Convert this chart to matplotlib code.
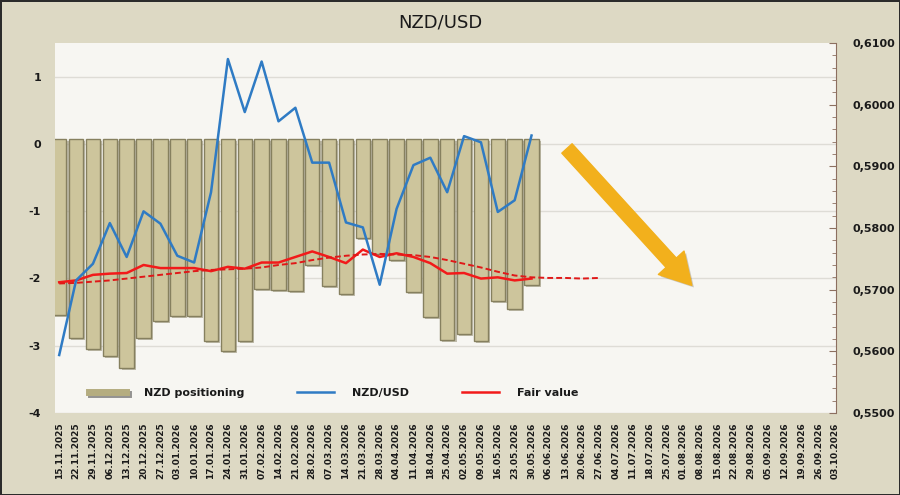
# NZD/USD positioning vs price and fair value
import matplotlib
matplotlib.use("Agg")
import matplotlib.pyplot as plt
import matplotlib.patheffects as pe
from matplotlib.lines import Line2D
from matplotlib.ticker import MultipleLocator, FuncFormatter

plt.rcParams["axes.unicode_minus"] = False

# Weekly dates (x axis)
dates = ["15.11.2025", "22.11.2025", "29.11.2025", "06.12.2025", "13.12.2025",
         "20.12.2025", "27.12.2025", "03.01.2026", "10.01.2026", "17.01.2026",
         "24.01.2026", "31.01.2026", "07.02.2026", "14.02.2026", "21.02.2026",
         "28.02.2026", "07.03.2026", "14.03.2026", "21.03.2026", "28.03.2026",
         "04.04.2026", "11.04.2026", "18.04.2026", "25.04.2026", "02.05.2026",
         "09.05.2026", "16.05.2026", "23.05.2026", "30.05.2026", "06.06.2026",
         "13.06.2026", "20.06.2026", "27.06.2026", "04.07.2026", "11.07.2026",
         "18.07.2026", "25.07.2026", "01.08.2026", "08.08.2026", "15.08.2026",
         "22.08.2026", "29.08.2026", "05.09.2026", "12.09.2026", "19.09.2026",
         "26.09.2026", "03.10.2026"]

# NZD positioning (left axis)
positioning = [-2.54, -2.89, -3.05, -3.15, -3.33, -2.88, -2.63, -2.56, -2.56, -2.93,
               -3.08, -2.93, -2.15, -2.17, -2.18, -1.80, -2.11, -2.23, -1.40, -1.63,
               -1.73, -2.20, -2.57, -2.91, -2.82, -2.93, -2.34, -2.46, -2.10]

# NZD/USD spot (right axis)
nzdusd = [0.5594, 0.5715, 0.5742, 0.5808, 0.5753, 0.5827, 0.5807, 0.5755, 0.5744, 0.5858,
          0.6074, 0.5988, 0.6070, 0.5973, 0.5995, 0.5906, 0.5906, 0.5809, 0.5801, 0.5708,
          0.5831, 0.5902, 0.5914, 0.5858, 0.5949, 0.5939, 0.5826, 0.5845, 0.5950]

# Fair value (right axis)
fair_value = [0.5712, 0.5715, 0.5724, 0.5726, 0.5727, 0.5740, 0.5735, 0.5735, 0.5735, 0.5730,
              0.5737, 0.5734, 0.5744, 0.5744, 0.5753, 0.5762, 0.5753, 0.5743, 0.5765, 0.5753,
              0.5759, 0.5753, 0.5743, 0.5726, 0.5727, 0.5718, 0.5720, 0.5715, 0.5718]

# Fair value trend (dashed, runs a few weeks ahead)
fair_trend = [0.5710, 0.5711, 0.5713, 0.5715, 0.5718, 0.5721, 0.5724, 0.5727, 0.5730, 0.5732,
              0.5733, 0.5734, 0.5736, 0.5740, 0.5743, 0.5748, 0.5752, 0.5755, 0.5757, 0.5758,
              0.5757, 0.5756, 0.5753, 0.5748, 0.5742, 0.5736, 0.5729, 0.5723, 0.5720, 0.5719,
              0.5719, 0.5718, 0.5719]

# Arrow hint (start / end as date index and price)
arrow_from = (30.1, 0.5929)
arrow_to = (37.5, 0.5707)

BG = "#DDD9C4"
PLOT_BG = "#F7F6F2"
TXT = "#1a1a1a"
BAR_TOP = 0.08

fig = plt.figure(figsize=(9, 4.95), dpi=100, facecolor=BG, edgecolor="#2b2b2b", linewidth=2)
ax = fig.add_axes([0.0611, 0.1657, 0.8678, 0.7474])
ax.set_facecolor(PLOT_BG)
ax2 = ax.twinx()

# Bars hang from just above zero down to the positioning value
x_bars = range(len(positioning))
ax.bar(x_bars, [p - BAR_TOP for p in positioning], bottom=BAR_TOP, width=0.86,
       color="#CDC59C", edgecolor="#86805F", linewidth=1.0, zorder=2,
       path_effects=[pe.withSimplePatchShadow(offset=(1.5, -1.5), shadow_rgbFace="#9a957a", alpha=0.6)])

ax.set_xlim(-0.25, 46.05)
ax.set_ylim(-4, 1.5)
ax.set_yticks([-4, -3, -2, -1, 0, 1])
ax.grid(axis="y", color="#DEDCD6", linewidth=1, zorder=0)
ax.set_axisbelow(True)
ax.set_xticks(range(len(dates)))
ax.set_xticklabels(dates, rotation=90, fontsize=6.5, fontweight="bold", color=TXT)
ax.tick_params(axis="x", length=0, pad=7)
ax.tick_params(axis="y", length=0, pad=10, labelsize=8, labelcolor=TXT)
for lbl in ax.get_yticklabels():
    lbl.set_fontweight("bold")
for s in ax.spines.values():
    s.set_visible(False)

# Price lines on the right axis
ax2.plot(range(len(nzdusd)), nzdusd, color="#2F7BC4", linewidth=1.8, zorder=4)
ax2.plot(range(len(fair_value)), fair_value, color="#F21A1A", linewidth=1.8, zorder=3)
ax2.plot(range(len(fair_trend)), fair_trend, color="#E01818", linewidth=1.4,
         linestyle=(0, (3, 1.6)), zorder=3)

ax2.set_ylim(0.55, 0.61)
ax2.yaxis.set_major_locator(MultipleLocator(0.01))
ax2.yaxis.set_minor_locator(MultipleLocator(0.002))
ax2.yaxis.set_major_formatter(FuncFormatter(lambda v, _: f"{v:.4f}".replace(".", ",")))
ax2.tick_params(axis="y", which="major", direction="in", length=5, color="#8C6F60",
                pad=12, labelsize=8, labelcolor=TXT)
ax2.tick_params(axis="y", which="minor", direction="in", length=3, color="#8C6F60")
for lbl in ax2.get_yticklabels():
    lbl.set_fontweight("bold")
for name, s in ax2.spines.items():
    s.set_visible(name == "right")
ax2.spines["right"].set_color("#8C6F60")

# Big downward arrow
ax2.annotate("", xy=arrow_to, xytext=arrow_from,
             arrowprops=dict(arrowstyle="simple,head_width=1.25,head_length=1.1,tail_width=0.5",
                             mutation_scale=20, color="#F2B01C", shrinkA=0, shrinkB=0,
                             path_effects=[pe.withSimplePatchShadow(offset=(1.5, -1.5), alpha=0.25)]),
             zorder=5)

# Title
fig.text(0.489, 0.955, "NZD/USD", ha="center", va="center", fontsize=13, color=TXT)

# Legend
handles = [
    Line2D([], [], color="#B5AD80", linewidth=5,
           path_effects=[pe.SimpleLineShadow(offset=(1.5, -1.5), alpha=0.4), pe.Normal()]),
    Line2D([], [], color="#2F7BC4", linewidth=1.8),
    Line2D([], [], color="#F21A1A", linewidth=1.8),
]
leg = ax.legend(handles, ["NZD positioning", "NZD/USD", "Fair value"], ncol=3,
                loc="center left", bbox_to_anchor=(0.031, 0.055), frameon=False,
                prop={"weight": "bold", "size": 8}, handlelength=3.3, handletextpad=1.6,
                columnspacing=4.8)
for t in leg.get_texts():
    t.set_color(TXT)
leg.set_zorder(6)

fig.savefig("out.png", dpi=100, facecolor=BG, edgecolor="#2b2b2b")
